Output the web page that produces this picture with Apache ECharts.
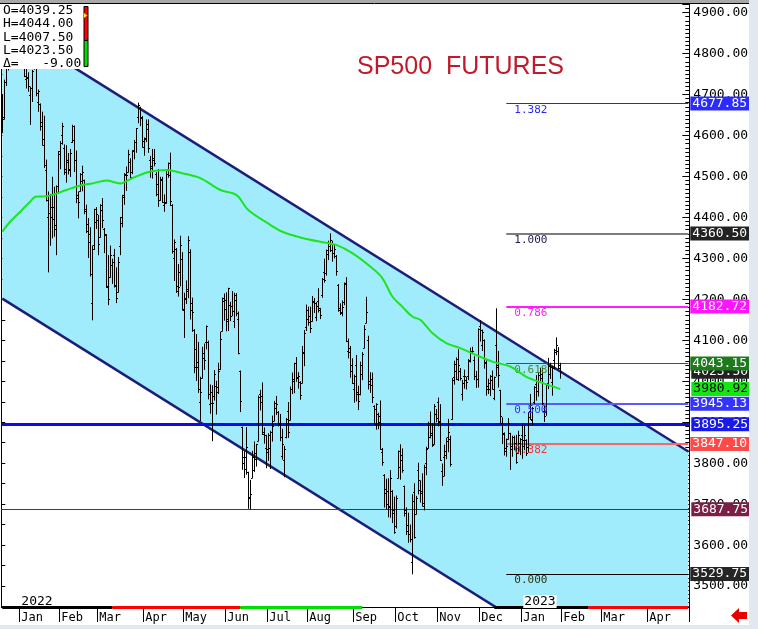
<!DOCTYPE html>
<html><head><meta charset="utf-8">
<script src="https://cdn.jsdelivr.net/npm/echarts@6/dist/echarts.min.js"></script>
<style>html,body{margin:0;padding:0;background:#fff;}#c{width:758px;height:629px;}</style>
</head><body><div id="c"></div>
<script>
// ---------- DATA ----------
const firstDate = '2021-12-20', lastDate = '2023-05-01';
const holidays = ['2021-12-24','2022-01-17','2022-02-21','2022-04-15','2022-05-30','2022-06-20','2022-07-04','2022-09-05','2022-11-24','2022-12-26','2023-01-02','2023-01-16'];
const monthNames = ['Jan','Feb','Mar','Apr','May','Jun','Jul','Aug','Sep','Oct','Nov','Dec'];
// [date, open, high, low, close]
const ohlc = [
['2021-12-20',4650,4700,4607,4640],['2021-12-21',4645,4735,4640,4730],['2021-12-22',4730,4770,4722,4765],['2021-12-23',4768,4800,4760,4790],['2021-12-27',4795,4845,4790,4843],['2021-12-28',4845,4860,4832,4838],['2021-12-29',4840,4857,4830,4846],['2021-12-30',4848,4860,4828,4830],['2021-12-31',4830,4840,4815,4820],
['2022-01-03',4823,4842,4803,4842],['2022-01-04',4849,4864,4819,4839],['2022-01-05',4832,4843,4744,4746],['2022-01-06',4738,4770,4716,4741],['2022-01-07',4743,4753,4708,4722],['2022-01-10',4700,4718,4627,4715],['2022-01-11',4715,4759,4683,4758],['2022-01-12',4774,4794,4762,4771],['2022-01-13',4778,4789,4697,4704],['2022-01-14',4682,4711,4659,4708],['2022-01-18',4677,4677,4613,4622],['2022-01-19',4633,4657,4577,4578],['2022-01-20',4592,4647,4522,4528],['2022-01-21',4516,4540,4440,4443],['2022-01-24',4401,4462,4267,4455],['2022-01-25',4412,4456,4332,4401],['2022-01-26',4425,4498,4350,4395],['2022-01-27',4425,4474,4354,4372],['2022-01-28',4382,4477,4309,4477],['2022-01-31',4476,4561,4459,4561],
['2022-02-01',4554,4585,4519,4582],['2022-02-02',4601,4630,4579,4624],['2022-02-03',4570,4577,4505,4512],['2022-02-04',4518,4575,4486,4536],['2022-02-07',4540,4556,4506,4519],['2022-02-08',4515,4566,4500,4557],['2022-02-09',4583,4625,4583,4622],['2022-02-10',4588,4623,4512,4539],['2022-02-11',4541,4562,4436,4454],['2022-02-14',4448,4462,4399,4437],['2022-02-15',4465,4507,4464,4506],['2022-02-16',4490,4525,4465,4510],['2022-02-17',4491,4491,4409,4415],['2022-02-18',4420,4430,4363,4384],['2022-02-22',4367,4397,4302,4340],['2022-02-23',4359,4375,4257,4261],['2022-02-24',4190,4330,4150,4324],['2022-02-25',4333,4420,4322,4420],['2022-02-28',4390,4424,4373,4409],
['2022-03-01',4393,4405,4309,4336],['2022-03-02',4352,4431,4352,4417],['2022-03-03',4431,4446,4375,4393],['2022-03-04',4372,4373,4314,4359],['2022-03-07',4358,4358,4229,4231],['2022-03-08',4232,4307,4187,4201],['2022-03-09',4254,4330,4254,4308],['2022-03-10',4283,4298,4239,4290],['2022-03-11',4309,4322,4230,4234],['2022-03-14',4232,4277,4192,4203],['2022-03-15',4218,4302,4218,4292],['2022-03-16',4331,4400,4309,4400],['2022-03-17',4387,4454,4377,4454],['2022-03-18',4449,4507,4432,4505],['2022-03-21',4504,4523,4466,4503],['2022-03-22',4512,4564,4511,4554],['2022-03-23',4536,4543,4497,4498],['2022-03-24',4512,4563,4507,4562],['2022-03-25',4565,4588,4543,4585],['2022-03-28',4583,4617,4559,4618],['2022-03-29',4644,4679,4631,4674],['2022-03-30',4666,4669,4624,4644],['2022-03-31',4642,4646,4572,4572],
['2022-04-01',4586,4594,4552,4591],['2022-04-04',4593,4638,4585,4628],['2022-04-05',4617,4638,4559,4570],['2022-04-06',4540,4549,4498,4526],['2022-04-07',4520,4566,4496,4545],['2022-04-08',4539,4566,4526,4533],['2022-04-11',4507,4509,4453,4458],['2022-04-12',4482,4517,4427,4442],['2022-04-13',4443,4498,4442,4492],['2022-04-14',4495,4498,4437,4438],['2022-04-18',4431,4455,4415,4437],['2022-04-19',4435,4516,4435,4507],['2022-04-20',4518,4533,4498,4504],['2022-04-21',4534,4557,4429,4439],['2022-04-22',4430,4431,4313,4317],['2022-04-25',4300,4345,4246,4341],['2022-04-26',4324,4324,4217,4220],['2022-04-27',4232,4285,4208,4229],['2022-04-28',4267,4354,4233,4333],['2022-04-29',4298,4314,4174,4177],
['2022-05-02',4175,4215,4107,4200],['2022-05-03',4204,4245,4190,4220],['2022-05-04',4226,4353,4204,4345],['2022-05-05',4316,4321,4152,4192],['2022-05-06',4174,4203,4122,4168],['2022-05-09',4126,4126,4021,4036],['2022-05-10',4080,4114,4002,4046],['2022-05-11',4035,4095,3973,3980],['2022-05-12',3949,4010,3904,3975],['2022-05-13',4008,4083,4008,4069],['2022-05-16',4058,4091,4029,4053],['2022-05-17',4097,4135,4079,4134],['2022-05-18',4097,4098,3957,3969],['2022-05-19',3944,3991,3922,3946],['2022-05-20',3973,3989,3855,3946],['2022-05-23',3965,4026,3954,4019],['2022-05-24',3988,4000,3920,3986],['2022-05-25',3974,4044,3970,4024],['2022-05-26',4030,4120,4029,4103],['2022-05-27',4123,4203,4123,4203],['2022-05-31',4197,4213,4149,4177],
['2022-06-01',4199,4216,4123,4151],['2022-06-02',4146,4227,4124,4227],['2022-06-03',4187,4193,4148,4159],['2022-06-06',4185,4219,4160,4171],['2022-06-07',4147,4215,4131,4211],['2022-06-08',4198,4214,4160,4166],['2022-06-09',4152,4169,4067,4068],['2022-06-10',4025,4025,3926,3951],['2022-06-13',3888,3888,3785,3800],['2022-06-14',3814,3828,3765,3785],['2022-06-15',3815,3887,3773,3840],['2022-06-16',3778,3778,3690,3717],['2022-06-17',3715,3758,3688,3725],['2022-06-21',3765,3829,3765,3815],['2022-06-22',3783,3852,3780,3810],['2022-06-23',3824,3846,3793,3846],['2022-06-24',3855,3964,3855,3962],['2022-06-27',3970,3978,3930,3950],['2022-06-28',3963,3996,3870,3872],['2022-06-29',3876,3886,3849,3869],['2022-06-30',3836,3868,3789,3835],
['2022-07-01',3827,3872,3807,3870],['2022-07-05',3837,3878,3787,3876],['2022-07-06',3876,3915,3854,3890],['2022-07-07',3904,3951,3904,3948],['2022-07-08',3934,3963,3919,3944],['2022-07-11',3925,3926,3891,3899],['2022-07-12',3896,3919,3855,3864],['2022-07-13',3817,3883,3810,3847],['2022-07-14',3809,3841,3767,3835],['2022-07-15',3864,3909,3862,3908],['2022-07-18',3928,3948,3863,3876],['2022-07-19',3906,3986,3906,3982],['2022-07-20',3980,4020,3970,4005],['2022-07-21',4001,4044,3972,4044],['2022-07-22',4045,4058,4000,4007],['2022-07-25',4011,4021,3983,4012],['2022-07-26',3998,3999,3956,3966],['2022-07-27',3996,4085,3996,4069],['2022-07-28',4071,4124,4038,4117],['2022-07-29',4132,4186,4124,4175],
['2022-08-01',4152,4181,4137,4159],['2022-08-02',4145,4181,4119,4131],['2022-08-03',4148,4207,4147,4195],['2022-08-04',4194,4202,4168,4192],['2022-08-05',4156,4192,4148,4185],['2022-08-08',4196,4226,4169,4180],['2022-08-09',4174,4178,4153,4162],['2022-08-10',4211,4251,4205,4250],['2022-08-11',4267,4298,4242,4247],['2022-08-12',4265,4320,4259,4320],['2022-08-15',4310,4342,4297,4337],['2022-08-16',4330,4360,4317,4345],['2022-08-17',4320,4342,4293,4314],['2022-08-18',4313,4333,4301,4324],['2022-08-19',4306,4307,4259,4268],['2022-08-22',4235,4236,4171,4178],['2022-08-23',4174,4189,4163,4169],['2022-08-24',4166,4196,4160,4181],['2022-08-25',4194,4240,4187,4239],['2022-08-26',4238,4253,4097,4098],['2022-08-29',4074,4103,4057,4071],['2022-08-30',4081,4085,4010,4026],['2022-08-31',4040,4055,3995,3995],
['2022-09-01',3982,4015,3949,4012],['2022-09-02',4040,4063,3952,3969],['2022-09-06',3975,3988,3931,3953],['2022-09-07',3970,4047,3967,4040],['2022-09-08',4019,4070,4004,4066],['2022-09-09',4082,4136,4082,4127],['2022-09-12',4143,4205,4143,4170],['2022-09-13',4101,4110,3981,3993],['2022-09-14',4000,4021,3973,4006],['2022-09-15',3992,4020,3948,3961],['2022-09-16',3940,3940,3898,3933],['2022-09-19',3895,3945,3883,3945],['2022-09-20',3920,3922,3884,3901],['2022-09-21',3916,3952,3834,3835],['2022-09-22',3827,3836,3795,3803],['2022-09-23',3772,3772,3693,3738],['2022-09-26',3727,3761,3689,3700],['2022-09-27',3732,3762,3669,3692],['2022-09-28',3696,3782,3668,3764],['2022-09-29',3733,3733,3655,3685],['2022-09-30',3678,3717,3629,3631],
['2022-10-03',3647,3720,3642,3716],['2022-10-04',3764,3830,3764,3829],['2022-10-05',3791,3845,3761,3821],['2022-10-06',3809,3835,3778,3783],['2022-10-07',3744,3744,3671,3678],['2022-10-10',3686,3691,3626,3650],['2022-10-11',3634,3678,3607,3627],['2022-10-12',3628,3649,3608,3615],['2022-10-13',3558,3723,3530,3708],['2022-10-14',3729,3750,3617,3621],['2022-10-17',3676,3719,3676,3716],['2022-10-18',3784,3800,3725,3758],['2022-10-19',3734,3757,3705,3733],['2022-10-20',3727,3774,3695,3704],['2022-10-21',3695,3795,3686,3791],['2022-10-24',3800,3839,3772,3835],['2022-10-25',3837,3900,3837,3897],['2022-10-26',3863,3925,3862,3869],['2022-10-27',3874,3897,3841,3845],['2022-10-28',3847,3943,3847,3939],['2022-10-31',3919,3931,3901,3910],
['2022-11-01',3949,3959,3891,3904],['2022-11-02',3901,3943,3807,3808],['2022-11-03',3781,3798,3746,3768],['2022-11-04',3815,3844,3769,3819],['2022-11-07',3829,3861,3811,3855],['2022-11-08',3865,3907,3828,3876],['2022-11-09',3858,3866,3793,3797],['2022-11-10',3907,4007,3907,4004],['2022-11-11',4011,4049,3993,4041],['2022-11-14',4026,4057,4004,4005],['2022-11-15',4055,4077,4002,4040],['2022-11-16',4025,4031,4003,4007],['2022-11-17',3968,4002,3954,3995],['2022-11-18',4014,4027,3983,4013],['2022-11-21',4004,4010,3981,3998],['2022-11-22',4013,4053,4004,4052],['2022-11-23',4049,4081,4047,4075],['2022-11-25',4072,4083,4068,4074],['2022-11-28',4053,4060,4004,4012],['2022-11-29',4012,4024,3985,4006],['2022-11-30',4006,4128,3986,4128],
['2022-12-01',4135,4148,4098,4125],['2022-12-02',4089,4125,4075,4120],['2022-12-05',4101,4101,4032,4047],['2022-12-06',4044,4050,3966,3989],['2022-12-07',3982,4005,3970,3982],['2022-12-08',3995,4014,3965,4012],['2022-12-09',4002,4025,3981,3982],['2022-12-12',3959,4010,3955,4010],['2022-12-13',4089,4177,4013,4040],['2022-12-14',4035,4073,3986,4015],['2022-12-15',3978,3978,3899,3916],['2022-12-16',3898,3911,3848,3872],['2022-12-19',3873,3874,3820,3838],['2022-12-20',3830,3859,3817,3842],['2022-12-21',3859,3909,3859,3898],['2022-12-22',3873,3873,3785,3842],['2022-12-23',3835,3866,3817,3865],['2022-12-27',3863,3866,3833,3849],['2022-12-28',3849,3868,3800,3803],['2022-12-29',3825,3878,3825,3869],['2022-12-30',3850,3860,3821,3860],
['2023-01-03',3870,3896,3812,3841],['2023-01-04',3857,3891,3833,3870],['2023-01-05',3857,3857,3819,3825],['2023-01-06',3840,3923,3827,3912],['2023-01-09',3927,3968,3907,3909],['2023-01-10',3905,3936,3894,3936],['2023-01-11',3949,3987,3945,3987],['2023-01-12',3994,4014,3954,4000],['2023-01-13',3977,4020,3964,4016],['2023-01-17',4016,4032,4001,4008],['2023-01-18',4019,4031,3943,3946],['2023-01-19',3928,3940,3902,3916],['2023-01-20',3926,3990,3917,3990],['2023-01-23',3995,4056,3982,4037],['2023-01-24',4019,4044,4007,4034],['2023-01-25',3999,4036,3966,4033],['2023-01-26',4053,4078,4030,4077],['2023-01-27',4071,4106,4065,4088],['2023-01-30',4075,4082,4030,4032.5],['2023-01-31',4039.25,4044,4007.5,4023.5]
];
// moving average (green) read at selected dates
const maPoints = [
['2021-12-20',4365],['2021-12-27',4390],['2022-01-03',4414],['2022-01-10',4439],['2022-01-13',4451],['2022-01-19',4451],['2022-01-26',4455],['2022-02-04',4467],['2022-02-16',4479],['2022-02-24',4483],['2022-03-07',4490],['2022-03-16',4483],['2022-03-24',4496],['2022-04-06',4512],['2022-04-19',4516],['2022-04-29',4508],['2022-05-12',4496],['2022-05-26',4467],['2022-06-08',4455],['2022-06-16',4418],['2022-07-05',4382],['2022-07-13',4365],['2022-07-27',4350],['2022-08-12',4338],['2022-08-19',4333],['2022-08-31',4313],['2022-09-14',4280],['2022-09-22',4252],['2022-09-29',4207],['2022-10-06',4182],['2022-10-13',4158],['2022-10-19',4150],['2022-10-27',4118],['2022-11-07',4093],['2022-11-16',4081],['2022-11-29',4064],['2022-12-09',4048],['2022-12-22',4036],['2023-01-05',4011],['2023-01-18',3996],['2023-01-31',3980.92]
];
const channelUpper = [['2021-12-20',4875.5],['2023-05-01',3828.7]];
const channelLower = [['2021-12-20',4201.7],['2023-05-01',3154.9]];
const fibStart = '2022-12-20';
const fibRatios = ['1.382','1.000','0.786','0.618','0.500','0.382','0.000'];
const fibValues = [4677.85,4360.50,4182.72,4043.15,3945.13,3847.10,3529.75];
const fullLevels = [3895.25,3687.75];
const lastPrice = 4023.50, maLast = 3980.92;
const legendLines = ['O=4039.25','H=4044.00','L=4007.50','L=4023.50','\u0394=   -9.00'];
// bottom status strip segments [from, to, colour key]
const strip = [['2021-12-20','2022-03-10','k'],['2022-03-10','2022-06-10','r'],['2022-06-10','2022-09-08','g'],['2022-12-12','2023-02-20','k'],['2023-02-20','2023-05-01','r']];

// ---------- CATEGORIES ----------
const dates = [];
(function(){
  let d = new Date(firstDate+'T00:00:00Z'); const end = new Date(lastDate+'T00:00:00Z');
  while (d <= end) { const wd = d.getUTCDay(); const s = d.toISOString().slice(0,10);
    if (wd !== 0 && wd !== 6 && holidays.indexOf(s) < 0) dates.push(s);
    d = new Date(d.getTime()+86400000); }
})();
const monthStart = dates.map((s,i)=> i>0 && i<dates.length-1 && s.slice(5,7)!==dates[i-1].slice(5,7));

// ---------- STYLES ----------
const mono = 'DejaVu Sans Mono';
const yMin = 3449, yMax = 4921;
const clear = 'rgba(0,0,0,0)';
const fibStyle = {
 '1.382':{line:'#2222ff',w:1,bg:'#2b2bff',fg:'#fff',txt:'#2a2aff'},
 '1.000':{line:'#7d7d7d',w:2,bg:'#222222',fg:'#fff',txt:'#1a1a50'},
 '0.786':{line:'#ff1cff',w:2,bg:'#ff14ff',fg:'#fff',txt:'#ff20ff'},
 '0.618':{line:'#117711',w:1,bg:'#1d7a1d',fg:'#fff',txt:'#4d8a2a'},
 '0.500':{line:'#5a5aff',w:2,bg:'#3434ff',fg:'#fff',txt:'#3030ff'},
 '0.382':{line:'#ff6464',w:2,bg:'#ff4a4a',fg:'#fff',txt:'#ff3030'},
 '0.000':{line:'#000000',w:1,bg:'#262626',fg:'#fff',txt:'#303010'}
};
const fullStyle = {3895.25:{line:'#0c0ce6',w:3,bg:'#1a1ae8',fg:'#fff'},3687.75:{line:'#7a1f4a',w:1,bg:'#7b1f47',fg:'#fff'}};
const stripColor = {k:'#000000',r:'#ff0000',g:'#00dd00'};

function endLabel(v, bg, fg){
  return {show:true, position:'end', distance:2, formatter:v.toFixed(2),
    backgroundColor:bg, color:fg, fontFamily:mono, fontSize:13, lineHeight:14, padding:[0,2,0,2]};
}
const levelData = [];
levelData.push({yAxis:lastPrice, lineStyle:{color:clear, width:0}, label:endLabel(lastPrice,'#222222','#fff')});
fibRatios.forEach((r,i)=>{
  const s = fibStyle[r];
  levelData.push([{coord:[fibStart, fibValues[i]], lineStyle:{color:s.line,width:s.w,type:'solid'}, label:endLabel(fibValues[i],s.bg,s.fg)},{coord:[lastDate, fibValues[i]]}]);
});
fullLevels.forEach(v=>{
  const s = fullStyle[v];
  levelData.push({yAxis:v, lineStyle:{color:s.line,width:s.w,type:'solid'}, label:endLabel(v,s.bg,s.fg)});
});
levelData.push({yAxis:maLast, lineStyle:{color:clear, width:0}, label:endLabel(maLast,'#14e614','#000')});
const fibTextData = fibRatios.map((r,i)=>[
  {coord:[fibStart, fibValues[i]], lineStyle:{color:clear, width:0},
   label:{show:true, position:'insideStartBottom', formatter:r, color:fibStyle[r].txt, fontFamily:mono, fontSize:11, distance:[8,1]}},
  {coord:[lastDate, fibValues[i]]}]);
const stripData = strip.map(s=>[{coord:[s[0], yMin], lineStyle:{color:stripColor[s[2]], width:3, type:'solid'}},{coord:[s[1], yMin]}]);

const fillData = [[dates.indexOf(channelLower[0][0]), channelLower[0][1], channelUpper[0][1], dates.indexOf(channelLower[1][0]), channelLower[1][1], channelUpper[1][1]]];

const chart = echarts.init(document.getElementById('c'), null, {renderer:'canvas', width:758, height:629});
const option = {
  animation:false,
  backgroundColor:'#ffffff',
  grid:{left:1.3, right:68.7, top:4, bottom:22},
  xAxis:{type:'category', data:dates, boundaryGap:true,
    axisLine:{show:true, onZero:false, lineStyle:{color:'#000', width:1}},
    axisTick:{show:true, interval:(i)=>monthStart[i], length:15, lineStyle:{color:'#000', width:1}},
    axisLabel:{show:true, interval:(i)=>monthStart[i], formatter:(v)=>monthNames[parseInt(v.slice(5,7),10)-1], align:'left', padding:[0,0,0,1],
      fontFamily:mono, fontSize:12, color:'#000', margin:5},
    splitLine:{show:false}},
  yAxis:[
    {type:'value', position:'right', min:yMin, max:yMax, splitNumber:15,
     axisLine:{show:true, lineStyle:{color:'#000', width:1}},
     axisTick:{show:true, inside:true, length:7, lineStyle:{color:'#000'}},
     minorTick:{show:true, splitNumber:10, length:4, lineStyle:{color:'#000'}},
     axisLabel:{show:true, margin:4, formatter:(v)=>v.toFixed(2), fontFamily:mono, fontSize:13, color:'#000', showMinLabel:false, showMaxLabel:false},
     splitLine:{show:false}},
    {type:'value', position:'left', min:yMin, max:yMax, splitNumber:30,
     axisLine:{show:true, lineStyle:{color:'#000', width:1}},
     axisTick:{show:true, inside:true, length:4, lineStyle:{color:'#000'}},
     axisLabel:{show:false}, splitLine:{show:false}}
  ],
  series:[
    {type:'custom', name:'channelFill', z:1, clip:true, silent:true,
     data:fillData,
     encode:{x:[0,3], y:[1,2,4,5]},
     renderItem:(params, api)=>{
       const a = api.coord([api.value(0), api.value(2)]);
       const b = api.coord([api.value(3), api.value(5)]);
       const c = api.coord([api.value(3), api.value(4)]);
       const d = api.coord([api.value(0), api.value(1)]);
       const cs = params.coordSys;
       return {type:'polygon', shape:{points:[a, b, c, d]}, style:{fill:'#a0ecfc'},
         clipPath:{type:'rect', shape:{x:cs.x, y:cs.y, width:cs.width, height:cs.height}}};
     }},
    {type:'line', name:'upper', z:3, data:channelUpper, symbol:'none', lineStyle:{color:'#1c1c7a', width:2.5}, silent:true},
    {type:'line', name:'lower', z:3, data:channelLower, symbol:'none', lineStyle:{color:'#1c1c7a', width:2.5}, silent:true},
    {type:'line', name:'levels', z:4, data:[], symbol:'none', silent:true,
     markLine:{silent:true, symbol:['none','none'], animation:false, data:levelData}},
    {type:'line', name:'fibtext', z:4, data:[], symbol:'none', silent:true,
     markLine:{silent:true, symbol:['none','none'], animation:false, data:fibTextData}},
    {type:'custom', name:'ohlc', z:5, clip:true,
     data:ohlc, encode:{x:0, y:[1,2,3,4]},
     renderItem:(params, api)=>{
       const i = api.value(0);
       const o = api.coord([i, api.value(1)]), h = api.coord([i, api.value(2)]);
       const l = api.coord([i, api.value(3)]), c = api.coord([i, api.value(4)]);
       const x = Math.round(h[0]) + 0.5;
       const st = {stroke:'#000', lineWidth:1};
       return {type:'group', children:[
         {type:'line', shape:{x1:x, y1:h[1]-0.5, x2:x, y2:l[1]+0.5}, style:st},
         {type:'line', shape:{x1:x-1.5, y1:Math.round(o[1])+0.5, x2:x, y2:Math.round(o[1])+0.5}, style:st},
         {type:'line', shape:{x1:x, y1:Math.round(c[1])+0.5, x2:x+1.5, y2:Math.round(c[1])+0.5}, style:st}
       ]};
     }},
    {type:'line', name:'ma', z:6, data:maPoints, symbol:'none', smooth:0.35, lineStyle:{color:'#1ee41e', width:2}, silent:true},
    {type:'line', name:'strip', z:7, data:[], symbol:'none', silent:true,
     markLine:{silent:true, symbol:['none','none'], animation:false, data:stripData}}
  ]
};
chart.setOption(option);

const x22 = chart.convertToPixel({xAxisIndex:0}, '2022-01-03');
const x23 = chart.convertToPixel({xAxisIndex:0}, '2023-01-03');
const yYear = chart.convertToPixel({yAxisIndex:0}, yMin);
const gfx = [
  {type:'rect', shape:{x:0, y:0, width:758, height:3}, style:{fill:'#a8a8a8'}, z:100},
  {type:'line', shape:{x1:0, y1:3.5, x2:749, y2:3.5}, style:{stroke:'#000', lineWidth:1}, z:100},
  {type:'rect', shape:{x:749, y:0, width:9, height:629}, style:{fill:'#e2e8f0'}, z:100},
  {type:'rect', shape:{x:0, y:625, width:758, height:4}, style:{fill:'#e2e8f0'}, z:100},
  {type:'rect', shape:{x:0, y:4, width:92, height:65}, style:{fill:'#fff'}, z:100},
  {type:'rect', shape:{x:84, y:6.5, width:4, height:34}, style:{fill:'#ff0000', stroke:'#000', lineWidth:1}, z:101},
  {type:'rect', shape:{x:84, y:40.5, width:4, height:26}, style:{fill:'#00dd00', stroke:'#000', lineWidth:1}, z:101},
  {type:'polygon', shape:{points:[[83.5,12.5],[87.5,15.5],[83.5,18.5]]}, style:{fill:'#ffee00', stroke:'#806000', lineWidth:0.5}, z:102},
  {type:'text', x:357, y:55, style:{text:'SP500  FUTURES', font:'25px "Liberation Sans"', fill:'#c21a2c'}, z:101},
  {type:'text', x:x22+1, y:yYear-12, style:{text:'2022', font:'13px "DejaVu Sans Mono"', fill:'#000'}, z:101},
  {type:'text', x:x23+1, y:yYear-12, style:{text:'2023', font:'13px "DejaVu Sans Mono"', fill:'#000', backgroundColor:'#fff', padding:[0,1]}, z:101},
  {type:'polygon', shape:{points:[[731,615.5],[739,608],[739,612],[747,612],[747,619],[739,619],[739,623]]}, style:{fill:'#e80000'}, z:101}
];
legendLines.forEach((t,i)=>gfx.push({type:'text', x:3, y:4+i*13.4, style:{text:t, font:'13px "DejaVu Sans Mono"', fill:'#000'}, z:103}));
chart.setOption({graphic:gfx});
</script></body></html>
